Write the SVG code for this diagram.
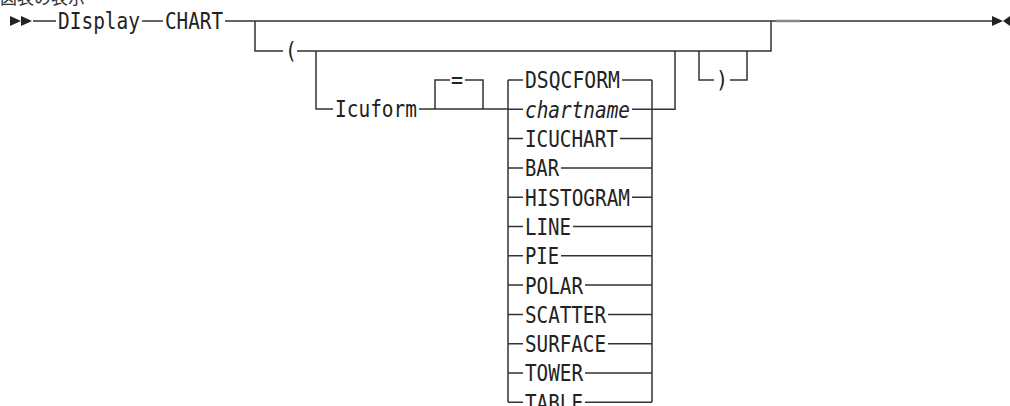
<svg xmlns="http://www.w3.org/2000/svg" width="1010" height="406" viewBox="0 0 1010 406">
<style>
.t{font-family:"DejaVu Sans Mono","Liberation Mono",monospace;font-size:23px;fill:#222}
.i{font-style:italic}
.l{stroke:#333;stroke-width:1.5;fill:none}
.h{font-family:"Noto Sans CJK JP","Noto Sans CJK SC",sans-serif;font-size:17px;fill:#333}
</style>
<rect width="1010" height="406" fill="#fff"/>
<text class="h" x="0" y="4">図表の表示</text>
<g id="connectors">
<path class="l" d="M33 21H56M142 21H163M225 21H992"/>
<line x1="776" y1="21" x2="800" y2="21" stroke="#888" stroke-width="2.5"/>
<path class="l" d="M255 21V51H283M297 51H771V21"/>
<path class="l" d="M316 51V109H333M419 109H508"/>
<path class="l" d="M435 109V80H450M465 80H483V109"/>
<path class="l" d="M508 80V402M652 80V402M652 109.3H675V51"/>
<path class="l" d="M699 51V80H714M730 80H747V51"/>
<path class="l" d="M508 80H523M622 80H652"/>
<path class="l" d="M508 109.3H523M632 109.3H652"/>
<path class="l" d="M508 138.6H523M620 138.6H652"/>
<path class="l" d="M508 167.9H523M561 167.9H652"/>
<path class="l" d="M508 197.2H523M632 197.2H652"/>
<path class="l" d="M508 226.5H523M573 226.5H652"/>
<path class="l" d="M508 255.8H523M561 255.8H652"/>
<path class="l" d="M508 285.1H523M585 285.1H652"/>
<path class="l" d="M508 314.4H523M608 314.4H652"/>
<path class="l" d="M508 343.7H523M608 343.7H652"/>
<path class="l" d="M508 373H523M585 373H652"/>
<path class="l" d="M508 402.3H523M585 402.3H652"/>
<polygon points="10,16 21,21 10,26" fill="#222"/>
<polygon points="21,16 32,21 21,26" fill="#222"/>
<polygon points="992,16 1003,21 992,26" fill="#222"/>
<polygon points="1010,16 1003,21 1010,26" fill="#222"/>
</g>
<g id="n-display"><text class="t" x="58" y="29.4" textLength="82" lengthAdjust="spacingAndGlyphs">DIsplay</text></g>
<g id="n-chart"><text class="t" x="165" y="29.4" textLength="58" lengthAdjust="spacingAndGlyphs">CHART</text></g>
<g id="n-lparen"><text class="t" x="285" y="59.4" textLength="12" lengthAdjust="spacingAndGlyphs">(</text></g>
<g id="n-icuform"><text class="t" x="335" y="117.4" textLength="82" lengthAdjust="spacingAndGlyphs">Icuform</text></g>
<g id="n-eq"><text class="t" x="451" y="88.4" textLength="12" lengthAdjust="spacingAndGlyphs">=</text></g>
<g id="n-rparen"><text class="t" x="716" y="88.4" textLength="12" lengthAdjust="spacingAndGlyphs">)</text></g>
<g id="n-dsqcform"><text class="t" x="525" y="88.4" textLength="95" lengthAdjust="spacingAndGlyphs">DSQCFORM</text></g>
<g id="n-chartname"><text class="t i" x="525" y="117.7" textLength="105" lengthAdjust="spacingAndGlyphs">chartname</text></g>
<g id="n-icuchart"><text class="t" x="525" y="147" textLength="93" lengthAdjust="spacingAndGlyphs">ICUCHART</text></g>
<g id="n-bar"><text class="t" x="525" y="176.3" textLength="34" lengthAdjust="spacingAndGlyphs">BAR</text></g>
<g id="n-histogram"><text class="t" x="525" y="205.6" textLength="105" lengthAdjust="spacingAndGlyphs">HISTOGRAM</text></g>
<g id="n-line"><text class="t" x="525" y="234.9" textLength="46" lengthAdjust="spacingAndGlyphs">LINE</text></g>
<g id="n-pie"><text class="t" x="525" y="264.2" textLength="34" lengthAdjust="spacingAndGlyphs">PIE</text></g>
<g id="n-polar"><text class="t" x="525" y="293.5" textLength="58" lengthAdjust="spacingAndGlyphs">POLAR</text></g>
<g id="n-scatter"><text class="t" x="525" y="322.8" textLength="81" lengthAdjust="spacingAndGlyphs">SCATTER</text></g>
<g id="n-surface"><text class="t" x="525" y="352.1" textLength="81" lengthAdjust="spacingAndGlyphs">SURFACE</text></g>
<g id="n-tower"><text class="t" x="525" y="381.4" textLength="58" lengthAdjust="spacingAndGlyphs">TOWER</text></g>
<g id="n-table"><text class="t" x="525" y="410.7" textLength="58" lengthAdjust="spacingAndGlyphs">TABLE</text></g>
</svg>
